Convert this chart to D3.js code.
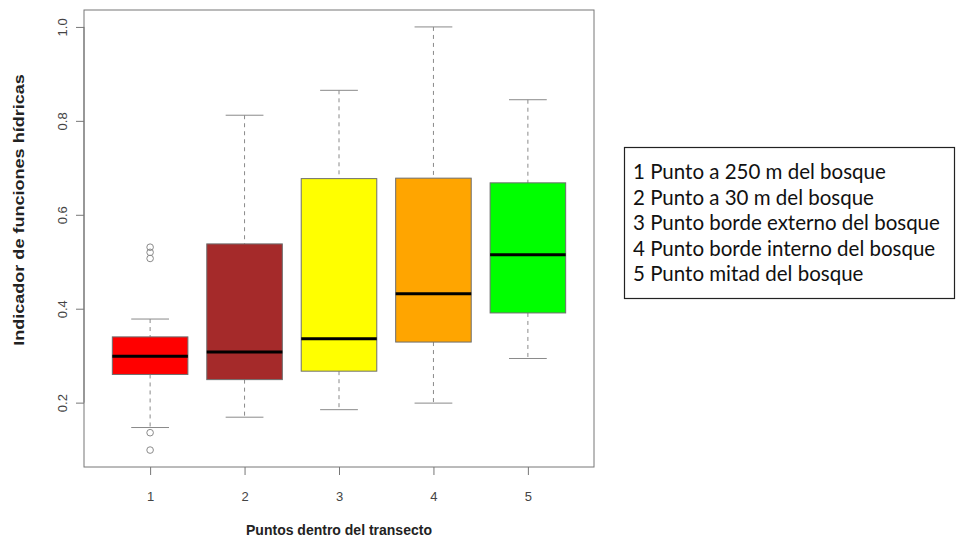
<!DOCTYPE html>
<html>
<head>
<meta charset="utf-8">
<script src="https://cdn.jsdelivr.net/npm/d3@7"></script>
<style>
  html, body { margin: 0; padding: 0; background: #fff; }
  svg { display: block; }
</style>
</head>
<body>
<svg id="chart" width="958" height="540"></svg>
<script>
// Boxplot summary per transect point
const categories   = ["1", "2", "3", "4", "5"];
const lowerWhisker = [0.147, 0.169, 0.185, 0.199, 0.294];
const q1           = [0.260, 0.249, 0.267, 0.329, 0.391];
const median       = [0.299, 0.308, 0.336, 0.432, 0.515];
const q3           = [0.340, 0.538, 0.677, 0.678, 0.668];
const upperWhisker = [0.378, 0.812, 0.865, 1.000, 0.845];
const outliers     = [[0.531, 0.520, 0.507, 0.136, 0.099], [], [], [], []];
const boxColors    = ["#FF0000", "#A52A2A", "#FFFF00", "#FFA500", "#00FF00"];
const yTicks       = [0.2, 0.4, 0.6, 0.8, 1.0];
const legendLines  = [
  "1 Punto a 250 m del bosque",
  "2 Punto a 30 m del bosque",
  "3 Punto borde externo del bosque",
  "4 Punto borde interno del bosque",
  "5 Punto mitad del bosque"
];
const xTitle = "Puntos dentro del transecto";
const yTitle = "Indicador de funciones hídricas";

const svg = d3.select("#chart");
const plot = { left: 84, right: 594, top: 10, bottom: 467 };

// Axis ranges padded by 4% like base R graphics
const allVals = lowerWhisker.concat(upperWhisker, outliers.flat());
const yLo = d3.min(allVals), yHi = d3.max(allVals);
const yPad = (yHi - yLo) * 0.04;
const y = d3.scaleLinear().domain([yLo - yPad, yHi + yPad]).range([plot.bottom, plot.top]);
const xPad = (categories.length) * 0.04;
const x = d3.scaleLinear().domain([0.5 - xPad, categories.length + 0.5 + xPad]).range([plot.left, plot.right]);
const unit = x(2) - x(1);

const data = categories.map((c, i) => ({
  cat: c, pos: i + 1, lo: lowerWhisker[i], q1: q1[i], med: median[i],
  q3: q3[i], hi: upperWhisker[i], out: outliers[i], color: boxColors[i]
}));

const g = svg.append("g");
const boxes = g.selectAll("g.box").data(data).join("g").attr("class", "box");

// whiskers (dashed)
boxes.append("line")
  .attr("x1", d => x(d.pos)).attr("x2", d => x(d.pos))
  .attr("y1", d => y(d.hi)).attr("y2", d => y(d.q3))
  .attr("stroke", "#8a8a8a").attr("stroke-width", 1).attr("stroke-dasharray", "4,4");
boxes.append("line")
  .attr("x1", d => x(d.pos)).attr("x2", d => x(d.pos))
  .attr("y1", d => y(d.q1)).attr("y2", d => y(d.lo))
  .attr("stroke", "#8a8a8a").attr("stroke-width", 1).attr("stroke-dasharray", "4,4");
// caps
["hi", "lo"].forEach(k => {
  boxes.append("line")
    .attr("x1", d => x(d.pos - 0.2)).attr("x2", d => x(d.pos + 0.2))
    .attr("y1", d => y(d[k])).attr("y2", d => y(d[k]))
    .attr("stroke", "#8a8a8a").attr("stroke-width", 1);
});
// boxes
boxes.append("rect")
  .attr("x", d => x(d.pos - 0.4)).attr("width", 0.8 * unit)
  .attr("y", d => y(d.q3)).attr("height", d => y(d.q1) - y(d.q3))
  .attr("fill", d => d.color).attr("stroke", "#6e6e6e").attr("stroke-width", 1);
// medians
boxes.append("line")
  .attr("x1", d => x(d.pos - 0.4)).attr("x2", d => x(d.pos + 0.4))
  .attr("y1", d => y(d.med)).attr("y2", d => y(d.med))
  .attr("stroke", "#000").attr("stroke-width", 3);
// outliers
boxes.selectAll("circle").data(d => d.out.map(v => ({ pos: d.pos, v })))
  .join("circle")
  .attr("cx", d => x(d.pos)).attr("cy", d => y(d.v)).attr("r", 3.3)
  .attr("fill", "none").attr("stroke", "#8a8a8a").attr("stroke-width", 1);

// frame
svg.append("rect")
  .attr("x", plot.left).attr("y", plot.top)
  .attr("width", plot.right - plot.left).attr("height", plot.bottom - plot.top)
  .attr("fill", "none").attr("stroke", "#777").attr("stroke-width", 1);

// y axis
const yAxis = svg.append("g")
  .attr("transform", `translate(${plot.left},0)`)
  .call(d3.axisLeft(y).tickValues(yTicks).tickFormat(d3.format(".1f")).tickSizeOuter(0).tickSize(8));
yAxis.select(".domain").attr("d", `M0,${y(yTicks[0])}V${y(yTicks[yTicks.length - 1])}`).attr("stroke", "#777");
yAxis.selectAll(".tick line").attr("stroke", "#777");
yAxis.selectAll(".tick text")
  .attr("x", null).attr("dy", null)
  .attr("transform", "translate(-22,0) rotate(-90)")
  .attr("text-anchor", "middle").attr("dominant-baseline", "central")
  .attr("fill", "#444").style("font-family", "Liberation Sans, Arial, sans-serif").style("font-size", "13px");

// x axis
const xAxis = svg.append("g")
  .attr("transform", `translate(0,${plot.bottom})`)
  .call(d3.axisBottom(x).tickValues(data.map(d => d.pos)).tickFormat((d, i) => categories[i]).tickSizeOuter(0).tickSize(8));
xAxis.select(".domain").remove();
xAxis.selectAll(".tick line").attr("stroke", "#777");
xAxis.selectAll(".tick text")
  .attr("y", 29).attr("dy", null).attr("dominant-baseline", "central")
  .attr("fill", "#444").style("font-family", "Liberation Sans, Arial, sans-serif").style("font-size", "13px");

// axis titles
svg.append("text")
  .attr("x", (plot.left + plot.right) / 2).attr("y", 530)
  .attr("text-anchor", "middle").attr("dominant-baseline", "central")
  .style("font-family", "Liberation Sans, Arial, sans-serif").style("font-weight", "bold").style("font-size", "14px")
  .attr("fill", "#222").text(xTitle);
svg.append("text")
  .attr("transform", "translate(19,210) rotate(-90) scale(1.29,1)")
  .attr("text-anchor", "middle").attr("dominant-baseline", "central")
  .style("font-family", "Liberation Sans, Arial, sans-serif").style("font-weight", "bold").style("font-size", "14px")
  .attr("fill", "#222").text(yTitle);

// legend
const legend = svg.append("g");
legend.append("rect")
  .attr("x", 624.5).attr("y", 147.5).attr("width", 330).attr("height", 151)
  .attr("fill", "#fff").attr("stroke", "#222").attr("stroke-width", 1.2);
legend.selectAll("text").data(legendLines).join("text")
  .attr("x", 633).attr("y", (d, i) => 171 + i * 25.5)
  .attr("dominant-baseline", "central")
  .style("font-family", "Lato, 'Noto Sans', sans-serif").style("font-size", "20.5px")
  .attr("fill", "#111").text(d => d);
</script>
</body>
</html>
